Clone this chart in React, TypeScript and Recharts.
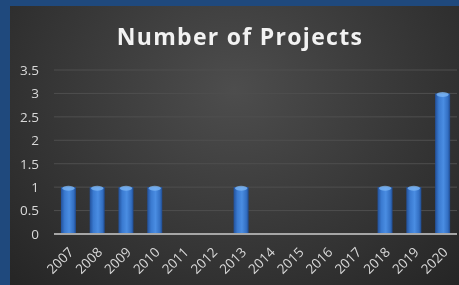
import React from "react";
import { BarChart, Bar, XAxis, YAxis, CartesianGrid } from "recharts";

const years = ["2007","2008","2009","2010","2011","2012","2013","2014","2015","2016","2017","2018","2019","2020"];
const projects = [1, 1, 1, 1, 0, 0, 1, 0, 0, 0, 0, 1, 1, 3];
const yTicks = [0, 0.5, 1, 1.5, 2, 2.5, 3, 3.5];

const data = years.map((y, i) => ({ year: y, value: projects[i] }));

const XTick = (props: any) => {
  const { x, y, payload } = props;
  const tx = x + 6;
  const ty = y + 11;
  return (
    <text
      x={tx}
      y={ty}
      textAnchor="end"
      fill="#d9d9d9"
      fontSize={13.5}
      fontFamily="'Open Sans', sans-serif"
      transform={`rotate(-45 ${tx} ${ty})`}
    >
      {payload.value}
    </text>
  );
};

const BarShape = (props: any) => {
  const { x, y, width, height } = props;
  if (!height || height <= 0) return null;
  return (
    <g>
      <rect x={x} y={y} width={width} height={height} fill="url(#barGrad)" />
      <ellipse cx={x + width / 2} cy={y + 1} rx={width / 2 - 1.5} ry={2.5} fill="#7fb8f5" opacity={0.75} />
    </g>
  );
};

export default function App() {
  return (
    <div style={{ position: "fixed", left: 0, top: 0, width: 459, height: 285, background: "#1f497d" }}>
      <div
        style={{
          position: "absolute",
          left: 10,
          top: 6,
          width: 449,
          height: 279,
          background: "radial-gradient(ellipse at 50% 30%, #4d4d4d 0%, #393939 50%, #252525 100%)",
        }}
      >
        <div
          style={{
            position: "absolute",
            left: 0,
            top: 16,
            width: 460,
            textAlign: "center",
            color: "#f2f2f2",
            fontFamily: "'Open Sans', sans-serif",
            fontWeight: 700,
            fontSize: 23,
            letterSpacing: 1.3,
            lineHeight: "28px",
          }}
        >
          Number of Projects
        </div>
        <BarChart
          width={449}
          height={279}
          data={data}
          margin={{ top: 64, right: 2, bottom: 0, left: 0 }}
          barCategoryGap="24%"
        >
          <defs>
            <linearGradient id="barGrad" x1="0" y1="0" x2="1" y2="0">
              <stop offset="0%" stopColor="#22509a" />
              <stop offset="25%" stopColor="#3a7ad0" />
              <stop offset="55%" stopColor="#4a8de2" />
              <stop offset="85%" stopColor="#336fc2" />
              <stop offset="100%" stopColor="#1f4a8e" />
            </linearGradient>
          </defs>
          <CartesianGrid vertical={false} stroke="#4e4e4e" strokeWidth={1} />
          <XAxis
            dataKey="year"
            interval={0}
            tickLine={false}
            axisLine={{ stroke: "#a6a6a6", strokeWidth: 2 }}
            tick={<XTick />}
            height={51}
          />
          <YAxis
            domain={[0, 3.5]}
            ticks={yTicks}
            width={44}
            axisLine={false}
            tickLine={false}
            tickSize={0}
            tickMargin={15}
            tick={{ fill: "#d9d9d9", fontSize: 13.5, fontFamily: "'Open Sans', sans-serif" }}
          />
          <Bar dataKey="value" isAnimationActive={false} shape={<BarShape />} />
        </BarChart>
      </div>
    </div>
  );
}
